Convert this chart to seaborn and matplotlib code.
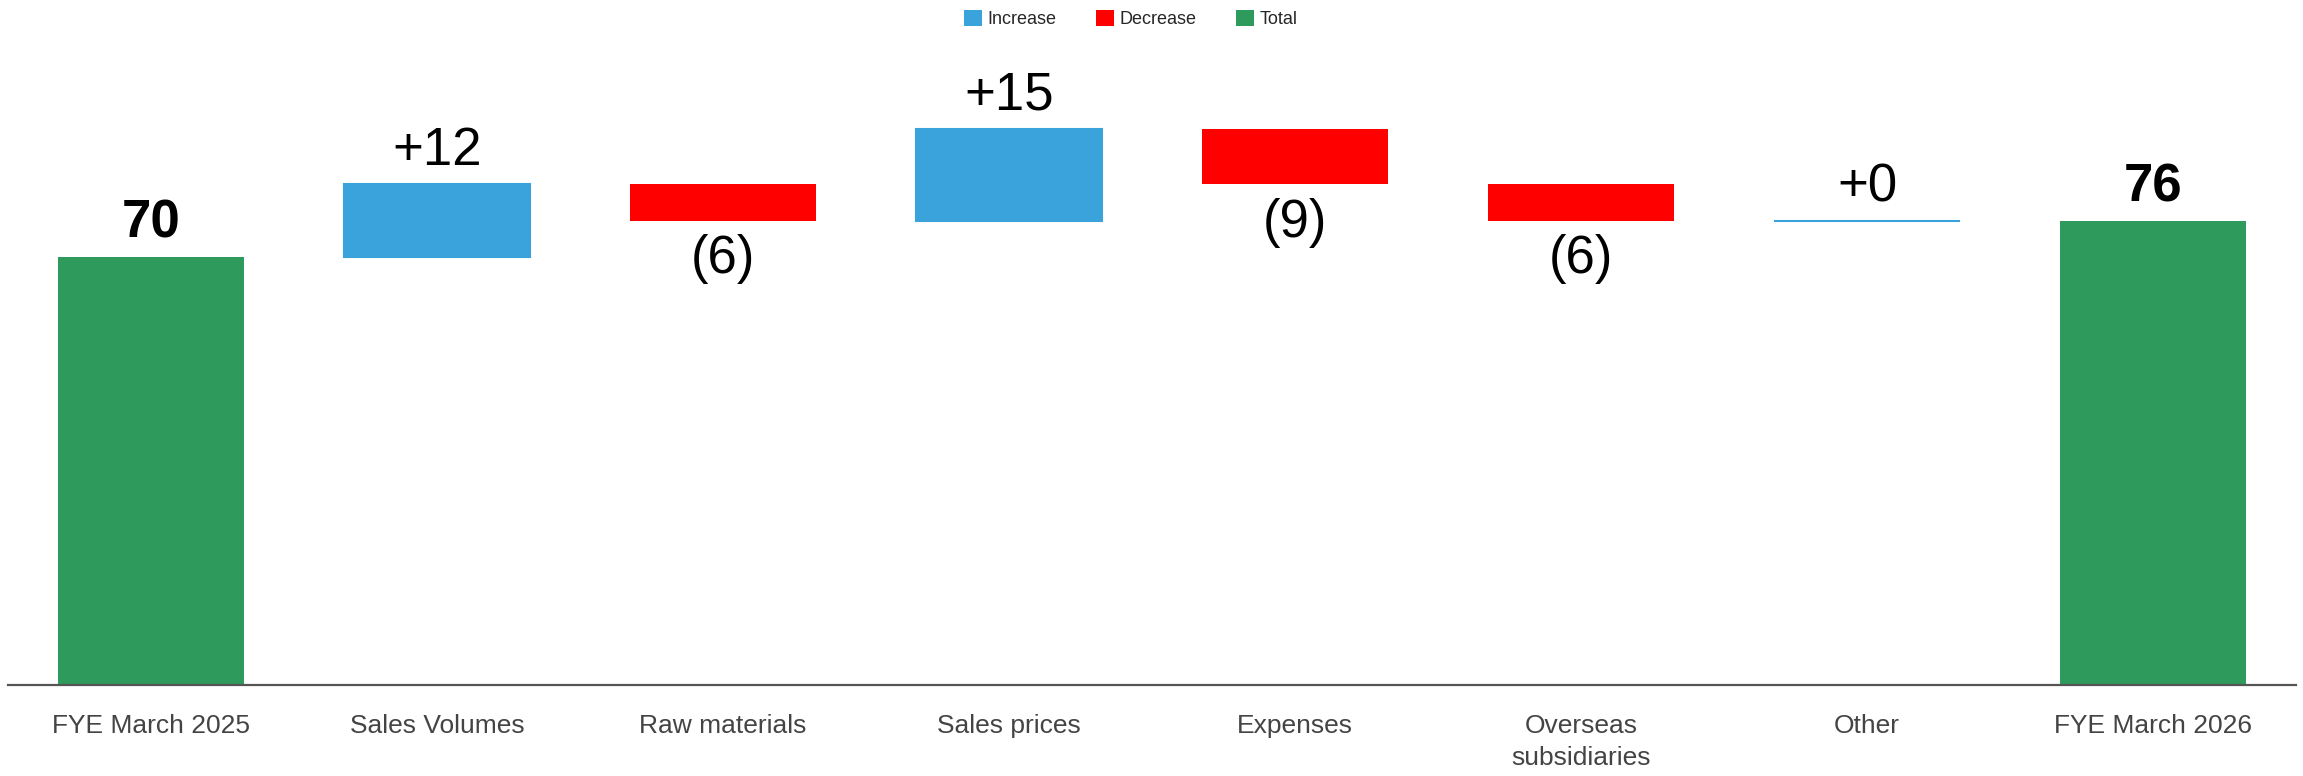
import numpy as np
import pandas as pd
import matplotlib
matplotlib.use('Agg')
import matplotlib.pyplot as plt
from matplotlib.patches import Patch
import seaborn as sns

# data
categories = ['FYE March 2025', 'Sales Volumes', 'Raw materials', 'Sales prices',
              'Expenses', 'Overseas\nsubsidiaries', 'Other', 'FYE March 2026']
start_value = 70
deltas = [12, -6, 15, -9, -6, 0]
end_value = 76

colors = {'Increase': '#3ba3dc', 'Decrease': '#ff0000', 'Total': '#2e9a5c'}

# build waterfall table
bottoms, heights, kinds = [0], [start_value], ['Total']
running = start_value
for d in deltas:
    bottoms.append(min(running, running + d))
    heights.append(abs(d))
    kinds.append('Increase' if d >= 0 else 'Decrease')
    running += d
bottoms.append(0)
heights.append(end_value)
kinds.append('Total')

df = pd.DataFrame({'category': categories, 'bottom': bottoms, 'height': heights, 'kind': kinds})
df['delta'] = [start_value] + deltas + [end_value]

sns.set_style('white')
plt.rcParams['font.family'] = ['Liberation Sans', 'DejaVu Sans']

fig = plt.figure(figsize=(23.03, 7.76), dpi=100)
ax = fig.add_axes([8 / 2303, 1 - 685 / 776, 2288 / 2303, 685 / 776])

for kind, sub in df.groupby('kind', sort=False):
    extra = dict(linewidth=1.5, edgecolor=colors[kind]) if kind == 'Increase' else dict(linewidth=0)
    sns.barplot(data=sub, x='category', y='height', order=categories, bottom=sub['bottom'].values,
                color=colors[kind], saturation=1, width=0.65, errorbar=None, ax=ax, **extra)

# value labels
for i, row in df.iterrows():
    top = row['bottom'] + row['height']
    if row['kind'] == 'Total':
        ax.annotate(f"{row['delta']}", (i, top), xytext=(0, 6), textcoords='offset points',
                    ha='center', va='bottom', fontsize=38, fontweight='bold', color='black')
    elif row['kind'] == 'Increase':
        ax.annotate(f"+{row['delta']}", (i, top), xytext=(0, 6), textcoords='offset points',
                    ha='center', va='bottom', fontsize=38, color='black')
    else:
        ax.annotate(f"({abs(row['delta'])})", (i, row['bottom']), xytext=(0, -10),
                    textcoords='offset points', ha='center', va='top', fontsize=38, color='black')

ax.set_xlim(-0.5, len(categories) - 0.5)
ax.set_ylim(0, 112.1)
ax.set_yticks([])
ax.set_xlabel('')
ax.set_ylabel('')
for s in ['top', 'left', 'right']:
    ax.spines[s].set_visible(False)
ax.spines['bottom'].set_color('#555555')
ax.spines['bottom'].set_linewidth(1.6)
ax.tick_params(axis='x', length=0, pad=21, labelsize=19, labelcolor='#444444')
for lbl in ax.get_xticklabels():
    lbl.set_linespacing(1.4)

handles = [Patch(facecolor=colors[k], edgecolor='none') for k in ['Increase', 'Decrease', 'Total']]
fig.legend(handles, ['Increase', 'Decrease', 'Total'], loc='center', ncol=3,
           bbox_to_anchor=(0.491, 1 - 19 / 776), frameon=False, fontsize=13,
           handlelength=1, handleheight=1, handletextpad=0.3, columnspacing=2.2)

fig.savefig('out.png', dpi=100)
